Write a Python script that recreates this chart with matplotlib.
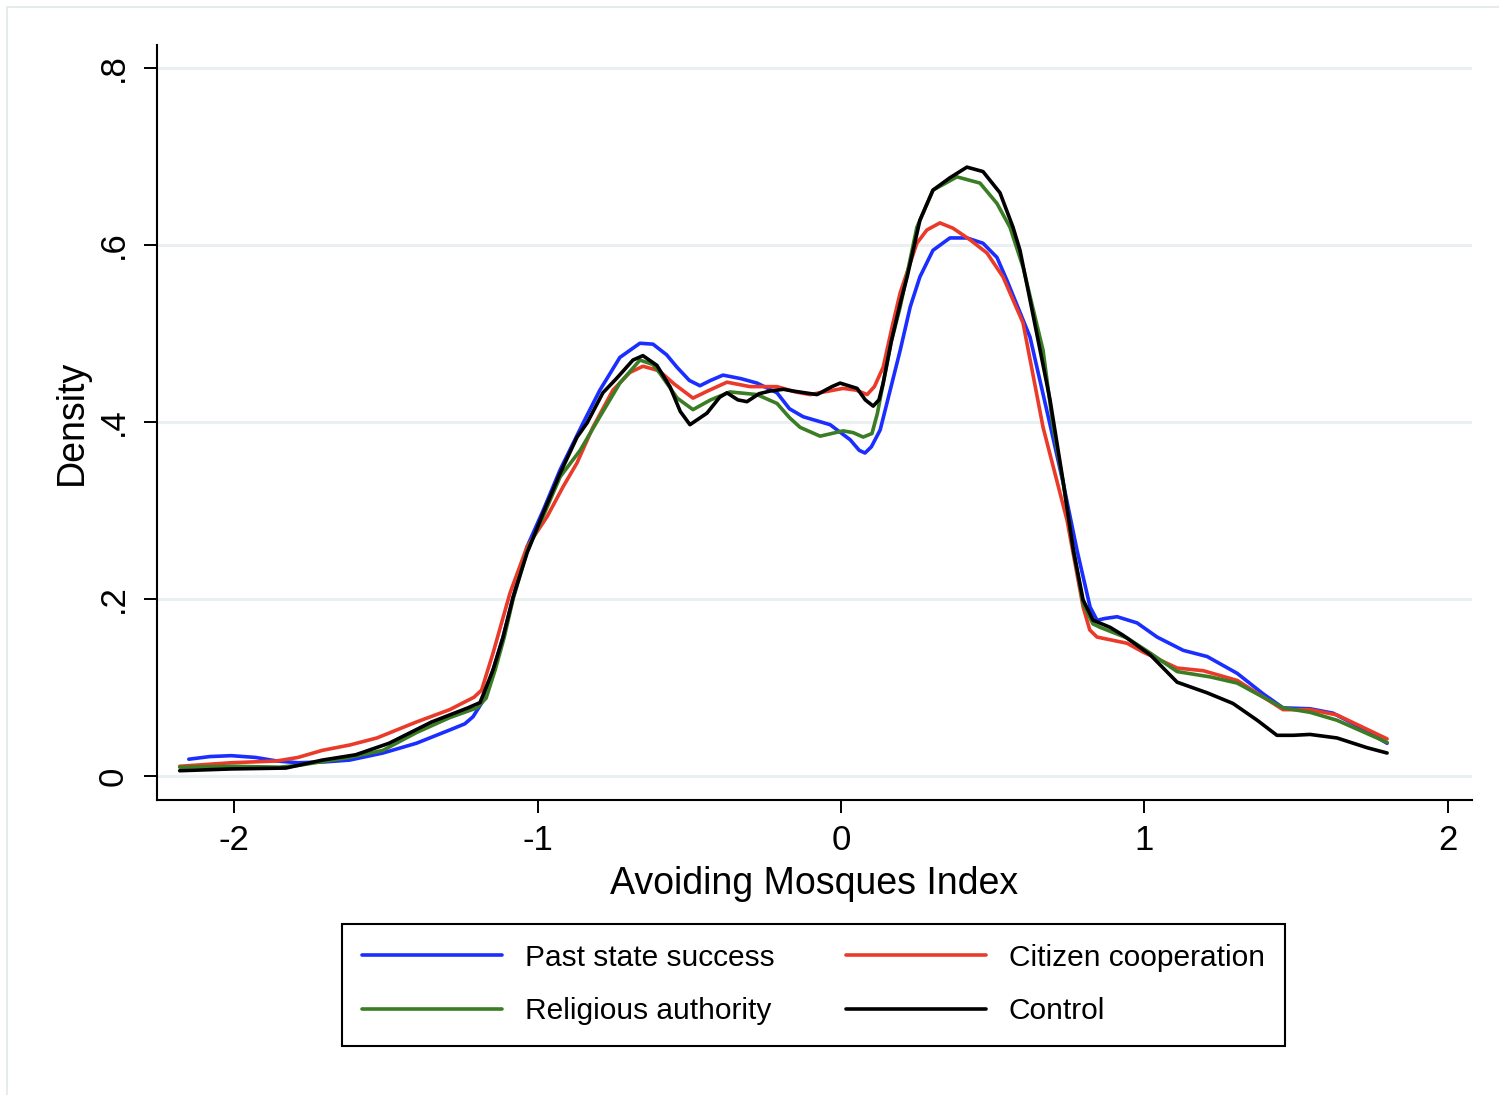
import matplotlib.pyplot as plt
from matplotlib.patches import Rectangle

plt.rcParams['font.family'] = ['Liberation Sans', 'DejaVu Sans']

# kernel density curves, one per treatment arm
x_past = [-2.15, -2.08, -2.01, -1.93, -1.86, -1.79, -1.70, -1.62, -1.51, -1.40, -1.29, -1.24,
          -1.213, -1.18, -1.147, -1.114, -1.081, -1.035, -0.982, -0.926, -0.85, -0.795, -0.729,
          -0.663, -0.62, -0.575, -0.541, -0.50, -0.465, -0.43, -0.389, -0.33, -0.277, -0.211,
          -0.17, -0.125, -0.036, 0.03, 0.06, 0.079, 0.10, 0.129, 0.165, 0.195, 0.228, 0.26,
          0.303, 0.359, 0.415, 0.468, 0.514, 0.547, 0.623, 0.689, 0.733, 0.778, 0.821, 0.844,
          0.87, 0.91, 0.976, 1.042, 1.128, 1.207, 1.306, 1.391, 1.457, 1.546, 1.622, 1.711, 1.80]
y_past = [0.019, 0.022, 0.023, 0.021, 0.017, 0.015, 0.016, 0.018, 0.026, 0.037, 0.052, 0.059,
          0.067, 0.085, 0.120, 0.157, 0.202, 0.259, 0.300, 0.346, 0.399, 0.436, 0.473,
          0.489, 0.488, 0.476, 0.462, 0.447, 0.441, 0.447, 0.453, 0.449, 0.444, 0.433,
          0.415, 0.406, 0.397, 0.380, 0.368, 0.365, 0.372, 0.391, 0.440, 0.481, 0.530, 0.564,
          0.594, 0.608, 0.608, 0.602, 0.586, 0.560, 0.496, 0.397, 0.330, 0.255, 0.191, 0.176,
          0.178, 0.180, 0.173, 0.157, 0.142, 0.135, 0.116, 0.093, 0.077, 0.076, 0.071, 0.055, 0.037]

x_citizen = [-2.18, -2.01, -1.86, -1.79, -1.71, -1.62, -1.53, -1.40, -1.29, -1.21, -1.185,
             -1.147, -1.091, -1.035, -0.969, -0.916, -0.87, -0.818, -0.752, -0.696, -0.653,
             -0.60, -0.55, -0.488, -0.44, -0.376, -0.30, -0.211, -0.15, -0.102, -0.04, 0.007,
             0.05, 0.086, 0.11, 0.139, 0.17, 0.195, 0.25, 0.283, 0.326, 0.369, 0.425, 0.481,
             0.534, 0.60, 0.666, 0.745, 0.798, 0.82, 0.844, 0.943, 0.996, 1.108, 1.194, 1.306,
             1.457, 1.546, 1.635, 1.80]
y_citizen = [0.011, 0.015, 0.017, 0.021, 0.029, 0.035, 0.043, 0.061, 0.075, 0.089, 0.097,
             0.139, 0.207, 0.259, 0.293, 0.327, 0.354, 0.394, 0.436, 0.456, 0.463,
             0.458, 0.443, 0.427, 0.435, 0.445, 0.440, 0.440, 0.434, 0.431, 0.435, 0.438,
             0.436, 0.431, 0.440, 0.462, 0.510, 0.546, 0.602, 0.617, 0.625, 0.619, 0.606, 0.591,
             0.564, 0.512, 0.394, 0.289, 0.191, 0.165, 0.157, 0.150, 0.140, 0.122, 0.119, 0.108,
             0.075, 0.075, 0.069, 0.042]

x_religious = [-2.18, -2.01, -1.85, -1.79, -1.62, -1.51, -1.40, -1.29, -1.20, -1.17, -1.14,
               -1.11, -1.081, -1.035, -0.98, -0.926, -0.86, -0.795, -0.729, -0.663, -0.62,
               -0.597, -0.54, -0.488, -0.43, -0.366, -0.277, -0.211, -0.17, -0.135, -0.069,
               0.007, 0.04, 0.073, 0.102, 0.12, 0.139, 0.165, 0.195, 0.25, 0.303, 0.382, 0.458,
               0.514, 0.557, 0.60, 0.666, 0.699, 0.733, 0.766, 0.798, 0.83, 0.854, 0.943, 1.019,
               1.108, 1.217, 1.306, 1.457, 1.546, 1.635, 1.80]
y_religious = [0.010, 0.011, 0.010, 0.012, 0.021, 0.029, 0.049, 0.066, 0.077, 0.088, 0.120,
               0.157, 0.200, 0.254, 0.295, 0.338, 0.368, 0.406, 0.444, 0.470, 0.465,
               0.455, 0.427, 0.414, 0.425, 0.434, 0.431, 0.421, 0.405, 0.394, 0.384,
               0.390, 0.388, 0.383, 0.387, 0.410, 0.444, 0.490, 0.530, 0.620, 0.662, 0.677, 0.670,
               0.647, 0.620, 0.575, 0.481, 0.395, 0.330, 0.255, 0.195, 0.172, 0.168, 0.156, 0.139,
               0.118, 0.112, 0.105, 0.077, 0.072, 0.063, 0.038]

x_control = [-2.18, -2.01, -1.83, -1.79, -1.71, -1.60, -1.49, -1.35, -1.23, -1.19, -1.147,
             -1.114, -1.081, -1.035, -0.982, -0.926, -0.87, -0.837, -0.785, -0.738, -0.686,
             -0.653, -0.607, -0.564, -0.53, -0.498, -0.442, -0.40, -0.376, -0.34, -0.31, -0.27,
             -0.234, -0.19, -0.158, -0.079, -0.03, -0.003, 0.053, 0.08, 0.106, 0.125, 0.139,
             0.165, 0.195, 0.218, 0.26, 0.303, 0.359, 0.415, 0.468, 0.524, 0.567, 0.59, 0.623,
             0.689, 0.733, 0.766, 0.798, 0.831, 0.887, 0.93, 1.019, 1.108, 1.207, 1.292, 1.372,
             1.437, 1.49, 1.546, 1.635, 1.734, 1.80]
y_control = [0.006, 0.008, 0.009, 0.012, 0.018, 0.024, 0.037, 0.061, 0.077, 0.083, 0.120,
             0.157, 0.202, 0.252, 0.297, 0.342, 0.383, 0.399, 0.433, 0.450, 0.470,
             0.475, 0.464, 0.440, 0.412, 0.397, 0.410, 0.428, 0.433, 0.425, 0.423, 0.432,
             0.435, 0.437, 0.435, 0.431, 0.440, 0.444, 0.438, 0.425, 0.418, 0.425, 0.444,
             0.490, 0.534, 0.564, 0.628, 0.662, 0.676, 0.688, 0.683, 0.659, 0.620, 0.594, 0.538,
             0.425, 0.331, 0.255, 0.199, 0.176, 0.168, 0.159, 0.137, 0.106, 0.094, 0.082, 0.063,
             0.046, 0.046, 0.047, 0.043, 0.032, 0.026]

labels = ['Past state success', 'Citizen cooperation', 'Religious authority', 'Control']
colors = ['#1a2eff', '#ea3b2a', '#3a7d24', '#000000']

fig = plt.figure(figsize=(14.99, 10.95), dpi=100)
fig.patches.append(Rectangle((0.005, -0.01), 1.2, 1.004, transform=fig.transFigure,
                             fill=False, edgecolor='#e6ecee', lw=1.5))
ax = fig.add_axes([0.1047, 0.2694, 0.8773, 0.6895])

lines = {}
for xs, ys, lab, col in zip([x_past, x_citizen, x_religious, x_control],
                            [y_past, y_citizen, y_religious, y_control],
                            labels, colors):
    lines[lab], = ax.plot(xs, ys, color=col, lw=2.6, label=lab, zorder=3,
                          solid_joinstyle='round', solid_capstyle='round')

ax.set_xlim(-2.255, 2.080)
ax.set_ylim(-0.0271, 0.826)
ax.set_xticks([-2, -1, 0, 1, 2])
ax.set_xticklabels(['-2', '-1', '0', '1', '2'])
ax.set_yticks([0, 0.2, 0.4, 0.6, 0.8])
ax.set_yticklabels(['0', '.2', '.4', '.6', '.8'], rotation=90, va='center')
ax.grid(axis='y', color='#eaf0f2', lw=2.2)
ax.set_axisbelow(True)
for side in ['top', 'right']:
    ax.spines[side].set_visible(False)
for side in ['left', 'bottom']:
    ax.spines[side].set_linewidth(1.5)
ax.tick_params(axis='both', length=9.5, width=1.4, labelsize=25, pad=8)
ax.tick_params(axis='y', pad=10)

ax.set_xlabel('Avoiding Mosques Index', fontsize=27, labelpad=6)
ax.set_ylabel('Density', fontsize=27, labelpad=5)

order = ['Past state success', 'Religious authority', 'Citizen cooperation', 'Control']
leg = fig.legend([lines[k] for k in order], order, ncol=2, loc='center',
                 bbox_to_anchor=(0.5427, 0.1009), fontsize=21.5, frameon=True,
                 fancybox=False, edgecolor='black', framealpha=1,
                 handlelength=4.68, handletextpad=0.77, columnspacing=2.4,
                 labelspacing=0.85, borderpad=0.68)
leg.get_frame().set_linewidth(1.5)

fig.savefig('out.png', dpi=100, facecolor='white')
